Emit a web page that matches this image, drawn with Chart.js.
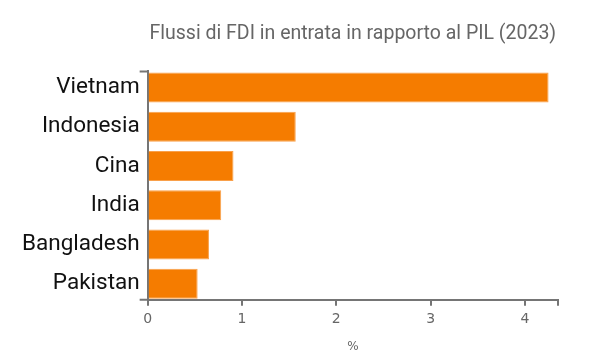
<!DOCTYPE html>
<html>
<head>
<meta charset="utf-8">
<script src="https://cdn.jsdelivr.net/npm/chart.js@4"></script>
<style>
  html, body { margin: 0; padding: 0; background: #fff; }
  #wrap { width: 596px; height: 361px; }
</style>
</head>
<body>
<div id="wrap"><canvas id="chart"></canvas></div>
<script>
// dati
const paesi = ['Vietnam', 'Indonesia', 'Cina', 'India', 'Bangladesh', 'Pakistan'];
const fdiPil = [4.25, 1.57, 0.91, 0.78, 0.65, 0.53];
const tickX = [0, 1, 2, 3, 4];
const titolo = 'Flussi di FDI in entrata in rapporto al PIL (2023)';
const unita = '%';

const axisColor = '#757575';

// tacche esterne stile d3 (inizio/fine degli assi)
const outerTicks = {
    id: 'outerTicks',
    afterDraw(chart) {
        const { ctx, chartArea } = chart;
        ctx.save();
        ctx.strokeStyle = axisColor;
        ctx.lineWidth = 2;
        ctx.beginPath();
        ctx.moveTo(chartArea.left - 8, chartArea.top);
        ctx.lineTo(chartArea.left, chartArea.top);
        ctx.moveTo(chartArea.left - 8, chartArea.bottom);
        ctx.lineTo(chartArea.left, chartArea.bottom);
        ctx.moveTo(chartArea.right, chartArea.bottom);
        ctx.lineTo(chartArea.right, chartArea.bottom + 6);
        ctx.stroke();
        ctx.restore();
    }
};

// asse y a bande (stile d3): indice del paese, padding esterno ridotto
const punti = fdiPil.map((v, i) => ({ x: v, y: i }));

new Chart(document.getElementById('chart'), {
    type: 'bar',
    data: {
        datasets: [{
            data: punti,
            backgroundColor: '#f57c00',
            borderColor: '#f9a04a',
            borderWidth: 1,
            borderSkipped: 'left',
            barPercentage: 0.765,
            categoryPercentage: 1
        }]
    },
    options: {
        indexAxis: 'y',
        responsive: true,
        maintainAspectRatio: false,
        animation: false,
        layout: { padding: { left: 22, right: 38, top: 0, bottom: 7 } },
        plugins: {
            legend: { display: false },
            tooltip: { enabled: false },
            title: {
                display: true,
                text: titolo,
                fullSize: false,
                color: '#666',
                font: { family: 'Roboto', size: 19.5, weight: 'normal' },
                padding: { top: 22, bottom: 26 }
            }
        },
        scales: {
            x: {
                type: 'linear',
                bounds: 'data',
                min: 0,
                max: 4.35,
                afterBuildTicks: axis => { axis.ticks = tickX.map(v => ({ value: v })); },
                grid: { drawOnChartArea: false, color: axisColor, lineWidth: 2, tickLength: 6 },
                border: { color: axisColor, width: 2 },
                ticks: {
                    color: '#666',
                    padding: 5,
                    font: { family: 'DejaVu Sans', size: 14 }
                },
                title: {
                    display: true,
                    text: unita,
                    color: '#666',
                    font: { family: 'DejaVu Sans', size: 12 },
                    padding: { top: 7, bottom: 0 }
                }
            },
            y: {
                type: 'linear',
                bounds: 'data',
                offset: false,
                reverse: true,
                min: -0.41,
                max: paesi.length - 1 + 0.41,
                afterBuildTicks: axis => { axis.ticks = paesi.map((p, i) => ({ value: i })); },
                grid: { display: false, offset: false },
                border: { color: axisColor, width: 2 },
                ticks: {
                    color: '#111',
                    padding: 0,
                    font: { family: 'Roboto', size: 22.5 },
                    callback: v => paesi[v]
                }
            }
        }
    },
    plugins: [outerTicks]
});
</script>
</body>
</html>
